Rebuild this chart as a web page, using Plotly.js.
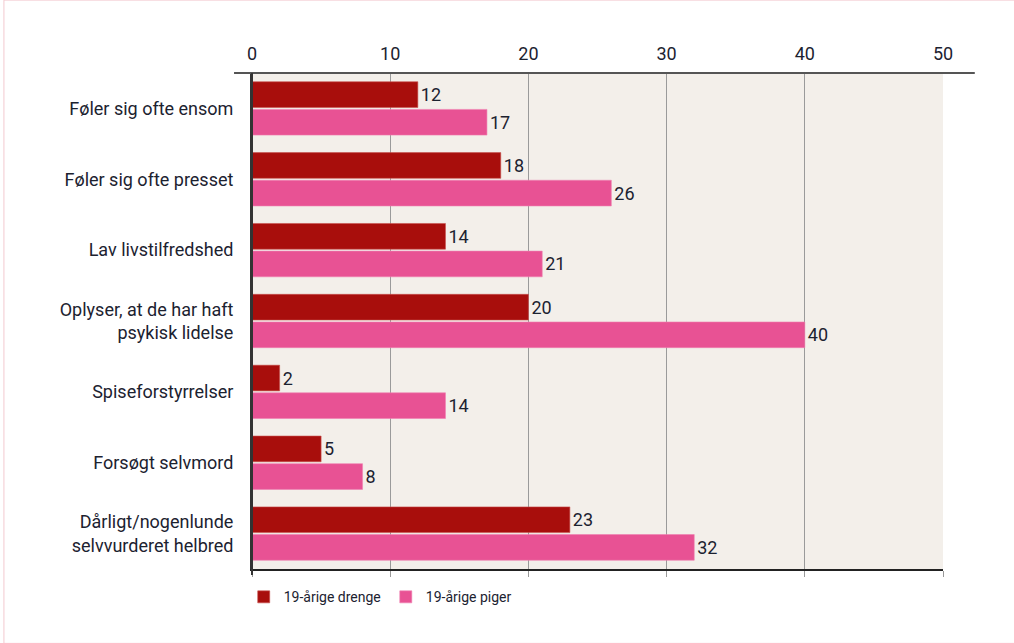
<!DOCTYPE html>
<html>
<head>
<meta charset="utf-8">
<script src="https://cdn.plot.ly/plotly-3.0.1.min.js"></script>
<style>html,body{margin:0;padding:0;background:#fff;}#chart{width:1014px;height:643px;}</style>
</head>
<body>
<div id="chart"></div>
<script>
const categories = [
  "Føler sig ofte ensom",
  "Føler sig ofte presset",
  "Lav livstilfredshed",
  "Oplyser, at de har haft<br>psykisk lidelse",
  "Spiseforstyrrelser",
  "Forsøgt selvmord",
  "Dårligt/nogenlunde<br>selvvurderet helbred"
];
const drenge = [12, 18, 14, 20, 2, 5, 23];
const piger = [17, 26, 21, 40, 14, 8, 32];
const seriesNames = ["19-årige drenge", "19-årige piger"];
const xTicks = [0, 10, 20, 30, 40, 50];

const FONT = "'Roboto', 'DejaVu Sans Condensed', sans-serif";
const TXT = "#1c2230";

const traces = [
  {type: "bar", orientation: "h", name: seriesNames[0], y: categories, x: drenge,
   text: drenge.map(String), textposition: "outside", cliponaxis: false,
   textfont: {family: FONT, size: 18, color: TXT},
   marker: {color: "#a80e0c", line: {color: "#c8504e", width: 0.6}}, hoverinfo: "x+y"},
  {type: "bar", orientation: "h", name: seriesNames[1], y: categories, x: piger,
   text: piger.map(String), textposition: "outside", cliponaxis: false,
   textfont: {family: FONT, size: 18, color: TXT},
   marker: {color: "#e85294", line: {color: "#f07fb0", width: 0.6}}, hoverinfo: "x+y"},
  {type: "scatter", x: [0, 50], y: [categories[0], categories[0]], xaxis: "x2", mode: "none",
   showlegend: false, hoverinfo: "skip"}
];

const layout = {
  width: 1014, height: 643,
  margin: {l: 252, r: 71, t: 73, b: 74},
  paper_bgcolor: "#ffffff",
  plot_bgcolor: "#f3efea",
  barmode: "group",
  bargap: 0.22,
  bargroupgap: 0.07,
  font: {family: FONT, color: TXT},
  xaxis: {
    side: "top", range: [0, 50], tickvals: xTicks, ticktext: xTicks.map(String),
    showgrid: true, gridcolor: "#9a9a9a", gridwidth: 1,
    zeroline: false, showline: false, ticks: "",
    tickfont: {family: FONT, size: 18, color: TXT}, ticklabelstandoff: 8
  },
  xaxis2: {
    overlaying: "x", side: "bottom", range: [0, 50], tickvals: xTicks,
    showticklabels: false, showgrid: false, zeroline: false,
    showline: true, linecolor: "#222", linewidth: 2,
    ticks: "outside", ticklen: 6, tickcolor: "#999", tickwidth: 1
  },
  yaxis: {
    autorange: "reversed", showline: true, linecolor: "#333", linewidth: 2,
    ticks: "", showgrid: false, zeroline: false,
    tickfont: {family: FONT, size: 18, color: TXT}, ticklabelstandoff: 13
  },
  legend: {
    orientation: "h", x: -0.012, xanchor: "left", y: -0.057, yanchor: "middle",
    font: {family: FONT, size: 14, color: TXT}, traceorder: "normal",
    itemwidth: 30, bgcolor: "rgba(0,0,0,0)"
  },
  shapes: [
    {type: "line", xref: "paper", yref: "paper", x0: -0.026, x1: 1.046, y0: 1, y1: 1,
     line: {color: "#555", width: 2}},
    {type: "line", xref: "paper", yref: "paper", x0: 0, x1: 0, y0: -0.012, y1: 1,
     line: {color: "#333", width: 2}},
    {type: "rect", xref: "paper", yref: "paper", x0: -0.359, x1: 1.12, y0: -0.15, y1: 1.147,
     line: {color: "#f3c9cf", width: 1}, fillcolor: "rgba(0,0,0,0)", layer: "below"}
  ],
  showlegend: true
};

Plotly.newPlot("chart", traces, layout, {displayModeBar: false, staticPlot: true});
</script>
</body>
</html>
